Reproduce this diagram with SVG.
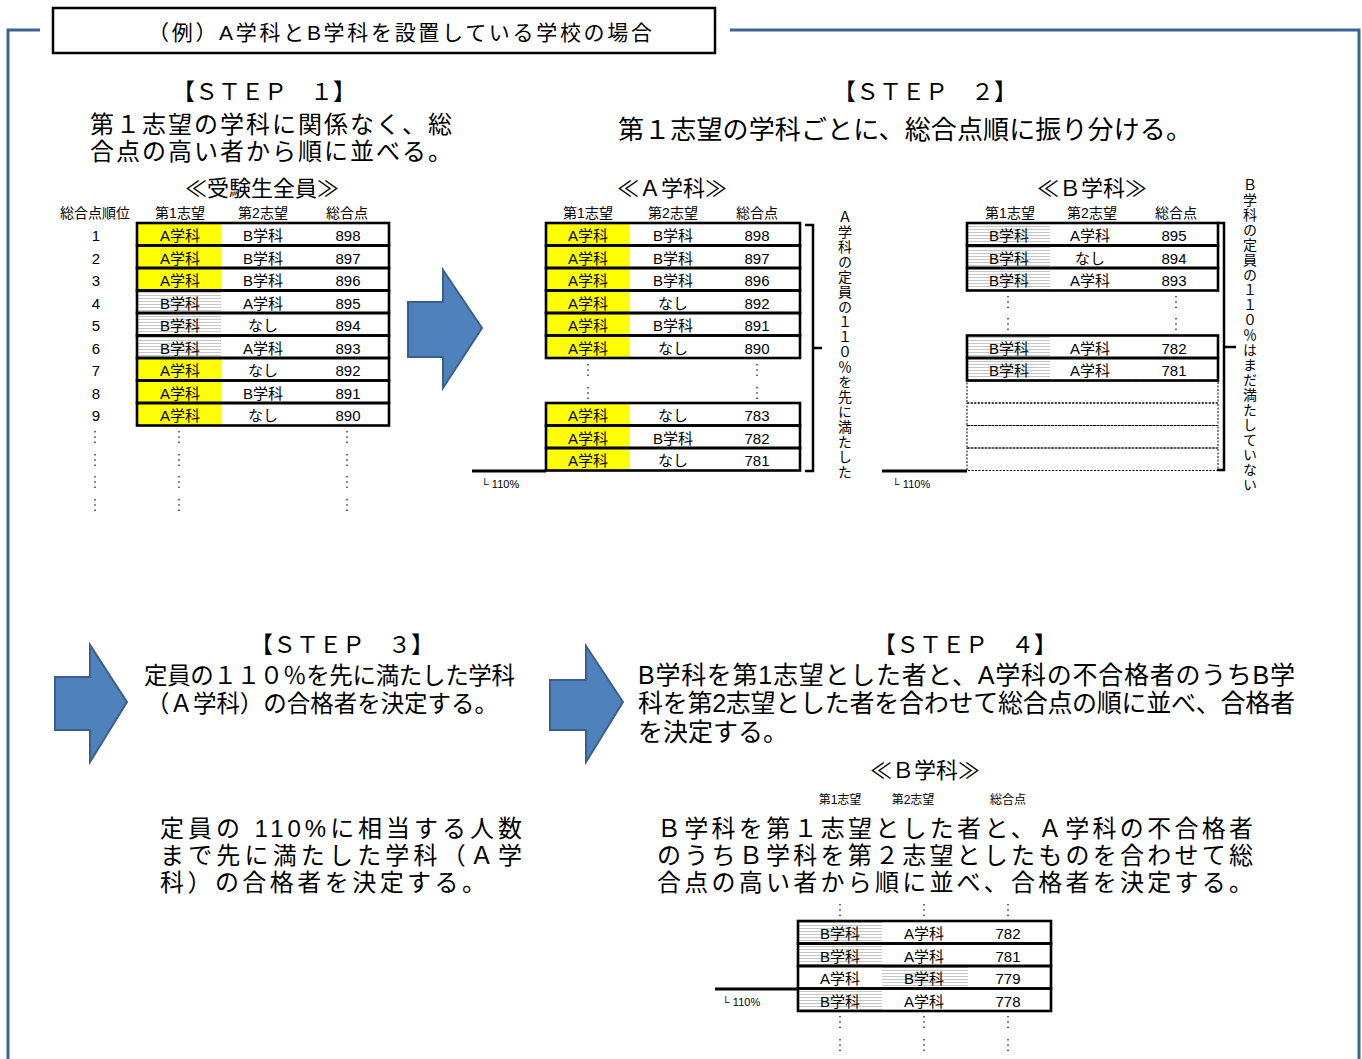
<svg xmlns="http://www.w3.org/2000/svg" width="1362" height="1059" viewBox="0 0 1362 1059">
<style>
text{font-family:"Liberation Sans","Noto Sans CJK JP",sans-serif;fill:#000}
.c{font-size:15px;text-anchor:middle}
.h{font-size:14px;text-anchor:middle}
.hs{font-size:12px;text-anchor:middle}
.big{font-size:24px}
.big26{font-size:26px}
.step{font-size:23px;text-anchor:middle}
.sub{font-size:22px;text-anchor:middle}
.pct{font-size:11px}
.row{fill:none;stroke:#000;stroke-width:2.6}
.drow{fill:none;stroke:#000;stroke-width:1;stroke-dasharray:2 1.5}
.yel{fill:#ffff00}
.hat{fill:url(#hatch)}
.dots{stroke:#444;stroke-width:1.6;stroke-dasharray:1.6 3.6;fill:none}
.base{stroke:#000;stroke-width:3;fill:none}
.brk{stroke:#000;stroke-width:2.5;fill:none}
.vt{font-size:14px;letter-spacing:1px;font-family:"Noto Sans CJK JP",sans-serif;writing-mode:vertical-rl;text-orientation:upright}
.arrow{fill:#4f81bd;stroke:#3a5f8e;stroke-width:2}
.frame{fill:none;stroke:#3c6494;stroke-width:3}
</style>
<defs>
<pattern id="hatch" width="6" height="3" patternUnits="userSpaceOnUse">
<rect width="6" height="3" fill="#fff"/>
<line x1="0" y1="1.5" x2="6" y2="1.5" stroke="#c6c6c6" stroke-width="1"/>
</pattern>
</defs>
<rect width="1362" height="1059" fill="#fff"/>

<g id="frame">
<path class="frame" d="M40,30 L8,30 L8,1059 M730,30 L1359,30 L1359,1059"/>
</g>

<g id="title">
<rect x="53" y="8" width="662" height="45" fill="#fff" stroke="#000" stroke-width="2.5"/>
<text x="148" y="40" font-size="21" textLength="504">（例）A学科とB学科を設置している学校の場合</text>
</g>

<g id="step1">
<text class="step" x="264" y="100">【ＳＴＥＰ　１】</text>
<text class="big" x="90" y="132.5" textLength="362">第１志望の学科に関係なく、総</text>
<text class="big" x="90" y="159.5" textLength="362">合点の高い者から順に並べる。</text>
<text class="sub" x="262" y="196">≪受験生全員≫</text>
<text class="h" x="95" y="218">総合点順位</text>
<text class="h" x="180" y="218">第1志望</text>
<text class="h" x="263" y="218">第2志望</text>
<text class="h" x="347" y="218">総合点</text>
<g>
<rect class="yel" x="137" y="223" width="84" height="22.5"/>
<rect class="yel" x="137" y="245.5" width="84" height="22.5"/>
<rect class="yel" x="137" y="268" width="84" height="22.5"/>
<rect class="hat" x="137" y="290.5" width="84" height="22.5"/>
<rect class="hat" x="137" y="313" width="84" height="22.5"/>
<rect class="hat" x="137" y="335.5" width="84" height="22.5"/>
<rect class="yel" x="137" y="358" width="84" height="22.5"/>
<rect class="yel" x="137" y="380.5" width="84" height="22.5"/>
<rect class="yel" x="137" y="403" width="84" height="22.5"/>
<rect class="row" x="137" y="223" width="252" height="22.5"/>
<rect class="row" x="137" y="245.5" width="252" height="22.5"/>
<rect class="row" x="137" y="268" width="252" height="22.5"/>
<rect class="row" x="137" y="290.5" width="252" height="22.5"/>
<rect class="row" x="137" y="313" width="252" height="22.5"/>
<rect class="row" x="137" y="335.5" width="252" height="22.5"/>
<rect class="row" x="137" y="358" width="252" height="22.5"/>
<rect class="row" x="137" y="380.5" width="252" height="22.5"/>
<rect class="row" x="137" y="403" width="252" height="22.5"/>
</g>
<g>
<text class="c" x="96" y="241">1</text><text class="c" x="180" y="241">A学科</text><text class="c" x="263" y="241">B学科</text><text class="c" x="348" y="241">898</text>
<text class="c" x="96" y="263.5">2</text><text class="c" x="180" y="263.5">A学科</text><text class="c" x="263" y="263.5">B学科</text><text class="c" x="348" y="263.5">897</text>
<text class="c" x="96" y="286">3</text><text class="c" x="180" y="286">A学科</text><text class="c" x="263" y="286">B学科</text><text class="c" x="348" y="286">896</text>
<text class="c" x="96" y="308.5">4</text><text class="c" x="180" y="308.5">B学科</text><text class="c" x="263" y="308.5">A学科</text><text class="c" x="348" y="308.5">895</text>
<text class="c" x="96" y="331">5</text><text class="c" x="180" y="331">B学科</text><text class="c" x="263" y="331">なし</text><text class="c" x="348" y="331">894</text>
<text class="c" x="96" y="353.5">6</text><text class="c" x="180" y="353.5">B学科</text><text class="c" x="263" y="353.5">A学科</text><text class="c" x="348" y="353.5">893</text>
<text class="c" x="96" y="376">7</text><text class="c" x="180" y="376">A学科</text><text class="c" x="263" y="376">なし</text><text class="c" x="348" y="376">892</text>
<text class="c" x="96" y="398.5">8</text><text class="c" x="180" y="398.5">A学科</text><text class="c" x="263" y="398.5">B学科</text><text class="c" x="348" y="398.5">891</text>
<text class="c" x="96" y="421">9</text><text class="c" x="180" y="421">A学科</text><text class="c" x="263" y="421">なし</text><text class="c" x="348" y="421">890</text>
</g>
<path class="dots" d="M95,431V443M179,431V443M347,431V443M95,454V466M179,454V466M347,454V466M95,476V488M179,476V488M347,476V488M95,499V511M179,499V511M347,499V511"/>
</g>

<g id="step2">
<text class="step" x="925" y="100">【ＳＴＥＰ　２】</text>
<text class="big26" x="618" y="139" textLength="574">第１志望の学科ごとに、総合点順に振り分ける。</text>
</g>

<g id="step2-a">
<text class="sub" x="672" y="196">≪Ａ学科≫</text>
<text class="h" x="588" y="218">第1志望</text>
<text class="h" x="673" y="218">第2志望</text>
<text class="h" x="757" y="218">総合点</text>
<g>
<rect class="yel" x="546" y="223" width="84" height="22.5"/>
<rect class="yel" x="546" y="245.5" width="84" height="22.5"/>
<rect class="yel" x="546" y="268" width="84" height="22.5"/>
<rect class="yel" x="546" y="290.5" width="84" height="22.5"/>
<rect class="yel" x="546" y="313" width="84" height="22.5"/>
<rect class="yel" x="546" y="335.5" width="84" height="22.5"/>
<rect class="yel" x="546" y="403" width="84" height="22.5"/>
<rect class="yel" x="546" y="425.5" width="84" height="22.5"/>
<rect class="yel" x="546" y="448" width="84" height="22.5"/>
<rect class="row" x="546" y="223" width="254" height="22.5"/>
<rect class="row" x="546" y="245.5" width="254" height="22.5"/>
<rect class="row" x="546" y="268" width="254" height="22.5"/>
<rect class="row" x="546" y="290.5" width="254" height="22.5"/>
<rect class="row" x="546" y="313" width="254" height="22.5"/>
<rect class="row" x="546" y="335.5" width="254" height="22.5"/>
<rect class="row" x="546" y="403" width="254" height="22.5"/>
<rect class="row" x="546" y="425.5" width="254" height="22.5"/>
<rect class="row" x="546" y="448" width="254" height="22.5"/>
</g>
<g>
<text class="c" x="588" y="241">A学科</text><text class="c" x="673" y="241">B学科</text><text class="c" x="757" y="241">898</text>
<text class="c" x="588" y="263.5">A学科</text><text class="c" x="673" y="263.5">B学科</text><text class="c" x="757" y="263.5">897</text>
<text class="c" x="588" y="286">A学科</text><text class="c" x="673" y="286">B学科</text><text class="c" x="757" y="286">896</text>
<text class="c" x="588" y="308.5">A学科</text><text class="c" x="673" y="308.5">なし</text><text class="c" x="757" y="308.5">892</text>
<text class="c" x="588" y="331">A学科</text><text class="c" x="673" y="331">B学科</text><text class="c" x="757" y="331">891</text>
<text class="c" x="588" y="353.5">A学科</text><text class="c" x="673" y="353.5">なし</text><text class="c" x="757" y="353.5">890</text>
<text class="c" x="588" y="421">A学科</text><text class="c" x="673" y="421">なし</text><text class="c" x="757" y="421">783</text>
<text class="c" x="588" y="443.5">A学科</text><text class="c" x="673" y="443.5">B学科</text><text class="c" x="757" y="443.5">782</text>
<text class="c" x="588" y="466">A学科</text><text class="c" x="673" y="466">なし</text><text class="c" x="757" y="466">781</text>
</g>
<path class="dots" d="M588,364V376M757,364V376M588,387V399M757,387V399"/>
<path class="base" d="M472,471H546"/>
<text class="pct" x="481" y="488">└ 110%</text>
<path class="brk" d="M805,225H813V471H805M813,348H822"/>
<text class="vt" x="845" y="210">Ａ学科の定員の１１０％を先に満たした</text>
</g>

<g id="step2-b">
<text class="sub" x="1092" y="196">≪Ｂ学科≫</text>
<text class="h" x="1010" y="218">第1志望</text>
<text class="h" x="1092" y="218">第2志望</text>
<text class="h" x="1176" y="218">総合点</text>
<g>
<rect class="hat" x="967" y="223" width="83" height="22.5"/>
<rect class="hat" x="967" y="245.5" width="83" height="22.5"/>
<rect class="hat" x="967" y="268" width="83" height="22.5"/>
<rect class="hat" x="967" y="335.5" width="83" height="22.5"/>
<rect class="hat" x="967" y="358" width="83" height="22.5"/>
<rect class="row" x="967" y="223" width="251" height="22.5"/>
<rect class="row" x="967" y="245.5" width="251" height="22.5"/>
<rect class="row" x="967" y="268" width="251" height="22.5"/>
<rect class="row" x="967" y="335.5" width="251" height="22.5"/>
<rect class="row" x="967" y="358" width="251" height="22.5"/>
<rect class="drow" x="967" y="381" width="251" height="22"/>
<rect class="drow" x="967" y="403" width="251" height="22.5"/>
<rect class="drow" x="967" y="425.5" width="251" height="22.5"/>
<rect class="drow" x="967" y="448" width="251" height="22.5"/>
</g>
<g>
<text class="c" x="1009" y="241">B学科</text><text class="c" x="1090" y="241">A学科</text><text class="c" x="1174" y="241">895</text>
<text class="c" x="1009" y="263.5">B学科</text><text class="c" x="1090" y="263.5">なし</text><text class="c" x="1174" y="263.5">894</text>
<text class="c" x="1009" y="286">B学科</text><text class="c" x="1090" y="286">A学科</text><text class="c" x="1174" y="286">893</text>
<text class="c" x="1009" y="353.5">B学科</text><text class="c" x="1090" y="353.5">A学科</text><text class="c" x="1174" y="353.5">782</text>
<text class="c" x="1009" y="376">B学科</text><text class="c" x="1090" y="376">A学科</text><text class="c" x="1174" y="376">781</text>
</g>
<path class="dots" d="M1008,296V308M1176,296V308M1008,318V330M1176,318V330"/>
<path class="base" d="M882,471H967"/>
<text class="pct" x="892" y="488">└ 110%</text>
<path class="brk" d="M1217,223H1224V470H1217M1224,347H1236"/>
<text class="vt" x="1250" y="178">Ｂ学科の定員の１１０％はまだ満たしていない</text>
</g>

<g id="step3">
<text class="step" x="342" y="653">【ＳＴＥＰ　３】</text>
<text x="144" y="684" font-size="23.5" textLength="371">定員の１１０％を先に満たした学科</text>
<text x="146" y="712" font-size="23.5" textLength="352">（Ａ学科）の合格者を決定する。</text>
<text class="big" x="160" y="837" textLength="362">定員の 110%に相当する人数</text>
<text class="big" x="160" y="864" textLength="362">まで先に満たした学科（Ａ学</text>
<text class="big" x="160" y="891" textLength="326">科）の合格者を決定する。</text>
</g>

<g id="step4">
<text class="step" x="965" y="653">【ＳＴＥＰ　４】</text>
<text x="638" y="684" font-size="25" textLength="657">B学科を第1志望とした者と、A学科の不合格者のうちB学</text>
<text x="638" y="712" font-size="25" textLength="657">科を第2志望とした者を合わせて総合点の順に並べ、合格者</text>
<text x="638" y="741" font-size="25">を決定する。</text>
<text class="sub" x="925" y="778">≪Ｂ学科≫</text>
<text class="hs" x="840" y="804">第1志望</text>
<text class="hs" x="913" y="804">第2志望</text>
<text class="hs" x="1008" y="804">総合点</text>
<rect x="650" y="806" width="620" height="87" fill="#fff"/>
<text class="big" x="657" y="837" textLength="596">Ｂ学科を第１志望とした者と、Ａ学科の不合格者</text>
<text class="big" x="657" y="864" textLength="596">のうちＢ学科を第２志望としたものを合わせて総</text>
<text class="big" x="657" y="891" textLength="596">合点の高い者から順に並べ、合格者を決定する。</text>
<path class="dots" d="M840,904V916M924,904V916M1008,904V916M840,1016V1028M924,1016V1028M1008,1016V1028M840,1039V1051M924,1039V1051M1008,1039V1051"/>
<g>
<rect class="hat" x="798" y="921" width="84" height="22.5"/>
<rect class="hat" x="798" y="943.5" width="84" height="22.5"/>
<rect class="hat" x="882" y="966" width="86" height="22.5"/>
<rect class="hat" x="798" y="988.5" width="84" height="22.5"/>
<rect class="row" x="798" y="921" width="253" height="22.5"/>
<rect class="row" x="798" y="943.5" width="253" height="22.5"/>
<rect class="row" x="798" y="966" width="253" height="22.5"/>
<rect class="row" x="798" y="988.5" width="253" height="22.5"/>
</g>
<g>
<text class="c" x="840" y="939">B学科</text><text class="c" x="924" y="939">A学科</text><text class="c" x="1008" y="939">782</text>
<text class="c" x="840" y="961.5">B学科</text><text class="c" x="924" y="961.5">A学科</text><text class="c" x="1008" y="961.5">781</text>
<text class="c" x="840" y="984">A学科</text><text class="c" x="924" y="984">B学科</text><text class="c" x="1008" y="984">779</text>
<text class="c" x="840" y="1006.5">B学科</text><text class="c" x="924" y="1006.5">A学科</text><text class="c" x="1008" y="1006.5">778</text>
</g>
<path class="base" d="M715,989H798"/>
<text class="pct" x="722" y="1006">└ 110%</text>
</g>

<g id="connectors">
<path class="arrow" d="M408,302H443V270L482,328L443,388V357H408Z"/>
<path class="arrow" d="M55,677H90V645L127,702L90,762V730H55Z"/>
<path class="arrow" d="M550,680H586V646L623,702L586,762V730H550Z"/>
</g>
</svg>
